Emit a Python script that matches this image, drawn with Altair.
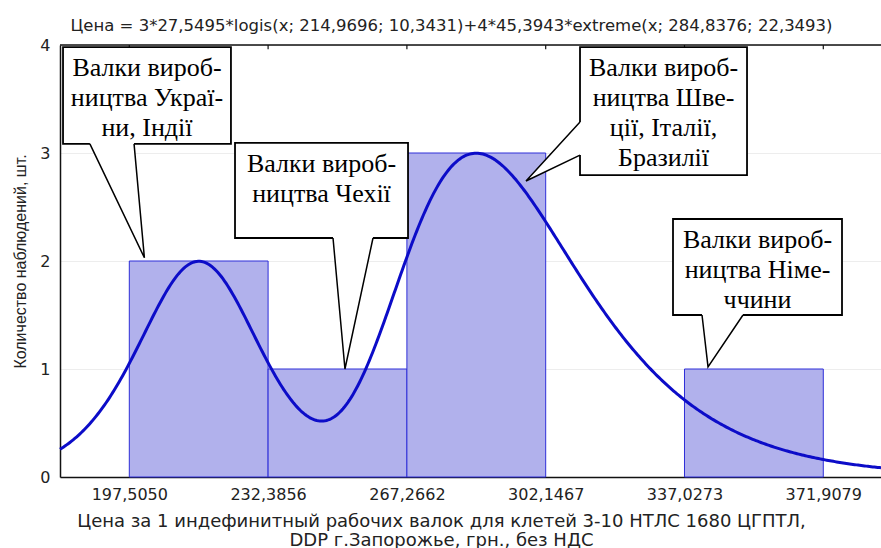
import altair as alt
import numpy as np
import pandas as pd

# Histogram: bin edges (axis tick values) and observation counts per bin
bin_edges = [197.5050, 232.3856, 267.2662, 302.1467, 337.0273, 371.9079]
bin_counts = [2, 1, 3, 0, 1]

# Fitted curve: 3*27,5495*logis(x; 214,9696; 10,3431) + 4*45,3943*extreme(x; 284,8376; 22,3493)
logis_n, logis_w, logis_loc, logis_scale = 3, 27.5495, 214.9696, 10.3431
ext_n, ext_w, ext_loc, ext_scale = 4, 45.3943, 284.8376, 22.3493

title_text = "Цена = 3*27,5495*logis(x; 214,9696; 10,3431)+4*45,3943*extreme(x; 284,8376; 22,3493)"
x_title = ["Цена за 1 индефинитный рабочих валок для клетей 3-10 НТЛС 1680 ЦГПТЛ,",
           "DDP г.Запорожье, грн., без НДС"]
y_title = "Количество наблюдений, шт."

# Callout labels
callout_texts = [
    ["Валки вироб-", "ництва Украї-", "ни, Індії"],
    ["Валки вироб-", "ництва Чехії"],
    ["Валки вироб-", "ництва Шве-", "ції, Італії,", "Бразилії"],
    ["Валки вироб-", "ництва Німе-", "ччини"],
]

X_MIN, X_MAX = 180.09, 386.41
W, H = 821, 432
PX_PER_Y = H / 4.0
SANS = "Liberation Sans"
WIDE = "DejaVu Sans"
SERIF = "Liberation Serif"
LINE_H = 30
FIRST_LINE = 21  # px from box top to the centre of the first text line

# ---- callout placement, in data units: box (x0, x1, y0, y1), pointer base points, pointer tip
callout_layout = [
    dict(box=(180.85, 223.05, 3.085, 3.98), base=[(187.6, 3.085), (198.7, 3.085)], tip=(201.3, 2.03), side="bottom"),
    dict(box=(224.07, 267.55, 2.213, 3.093), base=[(248.7, 2.213), (258.75, 2.213)], tip=(251.7, 1.0), side="bottom"),
    dict(box=(310.77, 352.74, 2.796, 3.981), base=[(310.77, 3.287), (310.77, 2.981)], tip=(297.2, 2.741), side="left"),
    dict(box=(334.14, 376.61, 1.5, 2.389), base=[(341.43, 1.5), (351.73, 1.5)], tip=(342.94, 1.019), side="bottom"),
]

# ---- tables
bars = pd.DataFrame({
    "x0": bin_edges[:-1],
    "x1": bin_edges[1:],
    "count": bin_counts,
})
bars = bars[bars["count"] > 0]

xs = np.linspace(X_MIN, X_MAX, 500)
zl = (xs - logis_loc) / logis_scale
logis_pdf = np.exp(-zl) / (logis_scale * (1 + np.exp(-zl)) ** 2)
ze = (xs - ext_loc) / ext_scale
ext_pdf = np.exp(-ze) * np.exp(-np.exp(-ze)) / ext_scale
curve = pd.DataFrame({"x": xs, "y": logis_n * logis_w * logis_pdf + ext_n * ext_w * ext_pdf})

boxes, fills, edges, labels = [], [], [], []
for i, (txt, c) in enumerate(zip(callout_texts, callout_layout)):
    x0, x1, y0, y1 = c["box"]
    boxes.append({"id": i, "x0": x0, "x1": x1, "y0": y0, "y1": y1})
    labels.append({"id": i, "x": (x0 + x1) / 2, "y": y1 - FIRST_LINE / PX_PER_Y, "text": "\n".join(txt)})
    (bx1, by1), (bx2, by2) = c["base"]
    tx, ty = c["tip"]
    # inset so the white pointer fill hides the box border where the pointer joins
    dx, dy = (0.6, 0.0) if c["side"] == "left" else (0.0, 0.03)
    poly = [(bx1, by1), (tx, ty), (bx2, by2), (bx2 + dx, by2 + dy), (bx1 + dx, by1 + dy)]
    for k, (px, py) in enumerate(poly):
        fills.append({"id": i, "k": k, "x": px, "y": py})
    for k, (px, py) in enumerate([(bx1, by1), (tx, ty), (bx2, by2)]):
        edges.append({"id": i, "k": k, "x": px, "y": py})
boxes, fills, edges, labels = map(pd.DataFrame, (boxes, fills, edges, labels))

xscale = alt.Scale(domain=[X_MIN, X_MAX], nice=False, zero=False)
yscale = alt.Scale(domain=[0, 4], nice=False)

x_axis = alt.Axis(
    values=bin_edges, labelExpr="replace(format(datum.value, '.4f'), '.', ',')",
    grid=False, ticks=False, labelFontSize=16, labelFont=WIDE, labelColor="#222222",
    labelPadding=9, labelFlush=False, domainColor="#111111", domainWidth=1.5,
    title=x_title, titleFont=WIDE, titleFontSize=18, titleFontWeight="normal",
    titleColor="#222222", titleX=381, titleY=35, titleBaseline="top",
    titleLineHeight=19, titleAnchor="middle",
)
y_axis = alt.Axis(
    values=[0, 1, 2, 3, 4], format="d", grid=True, gridColor="#ededed", gridWidth=1,
    ticks=False, labelFontSize=16, labelFont=WIDE, labelColor="#222222", labelPadding=10,
    domainColor="#111111", domainWidth=1.5,
    title=y_title, titleFont=SANS, titleFontSize=16, titleFontWeight="normal",
    titleColor="#222222", titlePadding=11,
)

bar_layer = alt.Chart(bars).mark_rect(fill="#b1b1ec", stroke="#2e2ed8", strokeWidth=1).encode(
    x=alt.X("x0:Q", scale=xscale, axis=x_axis),
    x2="x1:Q",
    y=alt.Y("count:Q", scale=yscale, axis=y_axis),
    y2=alt.datum(0),
)

curve_layer = alt.Chart(curve).mark_line(color="#0c0cc8", strokeWidth=3).encode(
    x=alt.X("x:Q", scale=xscale),
    y=alt.Y("y:Q", scale=yscale),
)

frame_top = alt.Chart(pd.DataFrame({"v": [4]})).mark_rule(color="#111111", strokeWidth=1.5).encode(
    y=alt.Y("v:Q", scale=yscale), x=alt.value(0), x2=alt.value(W),
)

top_ticks = alt.Chart(pd.DataFrame({"e": bin_edges})).mark_rule(color="#111111", strokeWidth=1.2).encode(
    x=alt.X("e:Q", scale=xscale), y=alt.datum(4), y2=alt.datum(3.96),
)

box_layer = alt.Chart(boxes).mark_rect(fill="white", stroke="black", strokeWidth=1.8).encode(
    x=alt.X("x0:Q", scale=xscale), x2="x1:Q",
    y=alt.Y("y0:Q", scale=yscale), y2="y1:Q",
)

fill_layer = alt.Chart(fills).mark_line(fill="white", strokeWidth=0, interpolate="linear-closed").encode(
    x=alt.X("x:Q", scale=xscale), y=alt.Y("y:Q", scale=yscale),
    detail="id:N", order="k:Q",
)

edge_layer = alt.Chart(edges).mark_line(color="black", strokeWidth=1.5).encode(
    x=alt.X("x:Q", scale=xscale), y=alt.Y("y:Q", scale=yscale),
    detail="id:N", order="k:Q",
)

text_layer = alt.Chart(labels).mark_text(
    font=SERIF, fontSize=26, lineHeight=LINE_H, lineBreak="\n", align="center",
    baseline="middle", color="black",
).encode(
    x=alt.X("x:Q", scale=xscale), y=alt.Y("y:Q", scale=yscale), text="text:N",
)

chart = alt.layer(
    bar_layer, curve_layer, frame_top, top_ticks, box_layer, fill_layer, edge_layer, text_layer,
).properties(
    width=W, height=H,
    title=alt.TitleParams(title_text, font=WIDE, fontSize=16.5, fontWeight="normal",
                          color="#222222", anchor="middle", dx=-19, offset=3),
    autosize=alt.AutoSizeParams(type="none"),
    padding={"left": 60, "top": 45, "right": 0, "bottom": 71},
).configure_view(stroke=None).configure(background="white")

chart.save("out.html", embed_options={"renderer": "svg", "actions": False})
